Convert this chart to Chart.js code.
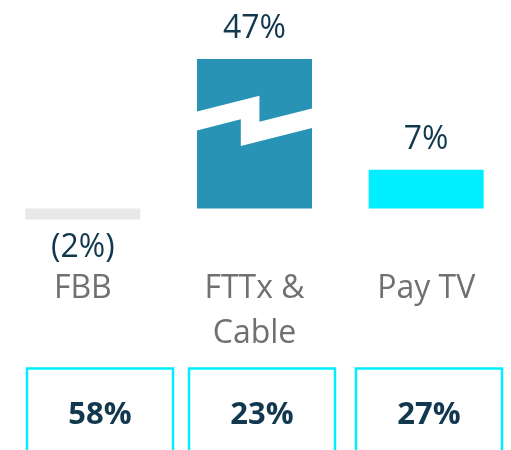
<!DOCTYPE html>
<html>
<head>
<meta charset="utf-8">
<script src="https://cdn.jsdelivr.net/npm/chart.js@4"></script>
<style>
  html, body { margin: 0; padding: 0; background: #fff; overflow: hidden; }
  #wrap { position: absolute; left: -3px; top: 0; width: 515px; height: 450px; }
</style>
</head>
<body>
<div id="wrap"><canvas id="myChart"></canvas></div>
<script>
// growth per product line
var categories = [['FBB'], ['FTTx &', 'Cable'], ['Pay TV']];
var growth = [-2, 47, 7];
var barColors = ['#e8e8e8', '#2893b5', '#00eeff'];
// share figures shown in the boxes underneath
var shares = [58, 23, 27];

var navy = '#12384f';
var fontFamily = '"Open Sans", "Noto Sans", sans-serif';

function pctLabel(v) {
    return v < 0 ? '(' + Math.abs(v) + '%)' : v + '%';
}

// value labels above (or below) each bar
var valueLabels = {
    id: 'valueLabels',
    afterDatasetsDraw: function (chart) {
        var ctx = chart.ctx;
        var area = chart.chartArea;
        var meta = chart.getDatasetMeta(0);
        ctx.save();
        ctx.font = '32px ' + fontFamily;
        ctx.fillStyle = navy;
        ctx.textAlign = 'center';
        ctx.textBaseline = 'alphabetic';
        meta.data.forEach(function (bar, i) {
            var v = growth[i];
            if (v >= 0) {
                var top = Math.max(bar.y, area.top);
                ctx.fillText(pctLabel(v), bar.x, top - 21);
            } else {
                ctx.fillText(pctLabel(v), bar.x, bar.y + 37);
            }
        });
        ctx.restore();
    }
};

// axis break drawn across bars that run past the top of the plot
var axisBreak = {
    id: 'axisBreak',
    afterDatasetsDraw: function (chart) {
        var ctx = chart.ctx;
        var area = chart.chartArea;
        var meta = chart.getDatasetMeta(0);
        ctx.save();
        ctx.fillStyle = '#ffffff';
        meta.data.forEach(function (bar) {
            if (bar.y >= area.top) return;
            var l = bar.x - bar.width / 2 - 1;
            var w = bar.width + 2;
            var t = area.top;
            ctx.beginPath();
            ctx.moveTo(l, t + 52.7);
            ctx.lineTo(l + w * 0.542, t + 36.7);
            ctx.lineTo(l + w * 0.542, t + 62.7);
            ctx.lineTo(l + w, t + 49.3);
            ctx.lineTo(l + w, t + 68.7);
            ctx.lineTo(l + w * 0.383, t + 87);
            ctx.lineTo(l + w * 0.383, t + 60.3);
            ctx.lineTo(l, t + 71.7);
            ctx.closePath();
            ctx.fill();
        });
        ctx.restore();
    }
};

// outlined boxes with the share figures
var shareBoxes = {
    id: 'shareBoxes',
    afterDraw: function (chart) {
        var ctx = chart.ctx;
        var lefts = [30, 192, 359];
        var boxW = 146;
        ctx.save();
        ctx.strokeStyle = '#00eeff';
        ctx.lineWidth = 2.5;
        ctx.font = 'bold 31px ' + fontFamily;
        ctx.fillStyle = navy;
        ctx.textAlign = 'center';
        ctx.textBaseline = 'alphabetic';
        shares.forEach(function (s, i) {
            ctx.strokeRect(lefts[i], 368.5, boxW, 100);
            ctx.fillText(s + '%', lefts[i] + boxW / 2, 424);
        });
        ctx.restore();
    }
};

var ctx = document.getElementById('myChart').getContext('2d');
var chart = new Chart(ctx, {
    type: 'bar',
    data: {
        labels: categories,
        datasets: [{
            data: growth,
            backgroundColor: barColors,
            borderWidth: 0,
            barPercentage: 0.67,
            categoryPercentage: 1
        }]
    },
    options: {
        responsive: true,
        maintainAspectRatio: false,
        animation: false,
        layout: { padding: { top: 59, bottom: 0, left: 0, right: 0 } },
        plugins: {
            legend: { display: false },
            tooltip: { enabled: false }
        },
        scales: {
            y: {
                display: false,
                min: -4,
                max: 27
            },
            x: {
                // fixed band under the plot for the category names and boxes
                afterFit: function (scale) { scale.height = 219.3; },
                grid: { display: false, drawTicks: false },
                border: { display: false },
                ticks: {
                    padding: 36,
                    color: '#707070',
                    font: { family: fontFamily, size: 32, lineHeight: 1.4 }
                }
            }
        }
    },
    plugins: [valueLabels, axisBreak, shareBoxes]
});
</script>
</body>
</html>
